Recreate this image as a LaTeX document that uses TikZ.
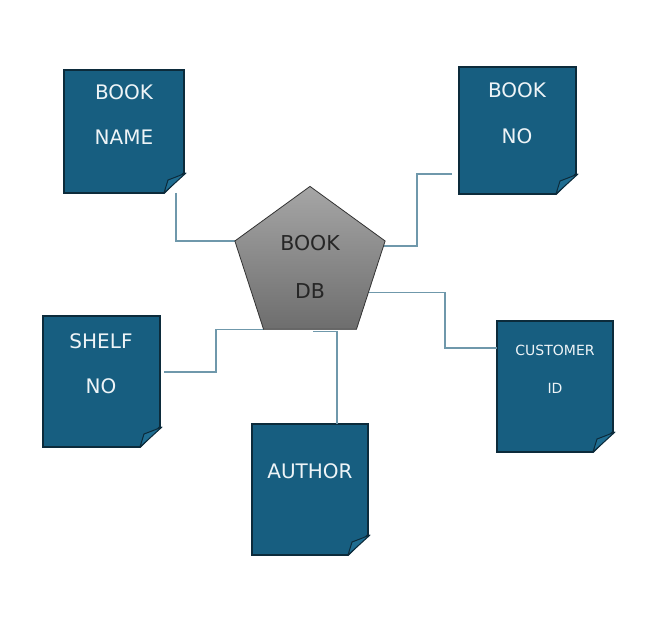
\documentclass[tikz,border=0pt]{standalone}
\usepackage{fontspec}
\setmainfont{DejaVu Sans}
\usetikzlibrary{shapes.geometric,backgrounds,calc}
\definecolor{boxfill}{HTML}{175E80}
\definecolor{boxline}{HTML}{0C2B3B}
\definecolor{flapfill}{HTML}{1F6D91}
\definecolor{conn}{HTML}{6F98AB}
\definecolor{boxtext}{HTML}{EEF4F7}
\tikzset{
  docbox/.style={rectangle, inner sep=0pt, outer sep=0pt, draw=none},
  docframe/.style={fill=boxfill, draw=boxline, line width=1.8pt, line join=miter},
  flap/.style={fill=flapfill, draw=boxline, line width=1pt, line join=round},
  boxlbl/.style={inner sep=0pt, text=boxtext, font=\fontsize{20}{24}\selectfont},
  smalllbl/.style={inner sep=0pt, text=boxtext, font=\fontsize{14}{17}\selectfont},
  dblbl/.style={inner sep=0pt, text=black!85, font=\fontsize{20.5}{24}\selectfont},
  connector/.style={draw=conn, line width=1.1pt},
  dbshape/.style={regular polygon, regular polygon sides=5, minimum size=158pt,
    inner sep=0pt, outer sep=0pt, draw=black!80, line width=0.8pt,
    top color=black!35, bottom color=black!57}
}
\newcommand\docframe[1]{%
  \path[docframe] (#1.north west) -- (#1.north east) -- ([yshift=20pt]#1.south east)
    -- ([xshift=-20pt]#1.south east) -- (#1.south west) -- cycle;
  \path[flap] ([xshift=-20pt]#1.south east) -- ([xshift=2pt,yshift=20pt]#1.south east)
    .. controls ([xshift=-8pt,yshift=16pt]#1.south east) .. ([xshift=-16pt,yshift=13pt]#1.south east)
    -- cycle;
}
\begin{document}
\begin{tikzpicture}[x=1pt,y=-1pt]
\begin{scope}[on background layer]
\fill[white] (0,0) rectangle (664,620);
\end{scope}
\useasboundingbox (0,0) rectangle (664,620);
% boxes
\node[docbox, minimum width=120pt, minimum height=123pt] (bn)  at (124,131.5) {};
\node[docbox, minimum width=117pt, minimum height=127pt] (bno) at (517.5,130.5) {};
\node[docbox, minimum width=117pt, minimum height=131pt] (sh)  at (101.5,381.5) {};
\node[docbox, minimum width=116pt, minimum height=131pt] (au)  at (310,489.5) {};
\node[docbox, minimum width=116pt, minimum height=131pt] (cu)  at (555,386.5) {};
\begin{scope}[on background layer]
  \docframe{bn}
  \docframe{bno}
  \docframe{sh}
  \docframe{au}
  \docframe{cu}
\end{scope}
% pentagon
\node[dbshape] (db) at (310,265.4) {};
% labels
\node[boxlbl] (bn1) at (124,92.5) {BOOK};
\node[boxlbl] (bn2) at (124,137) {NAME};
\node[boxlbl] (bno1) at (517,90) {BOOK};
\node[boxlbl] (bno2) at (517,136) {NO};
\node[boxlbl] (sh1) at (101,341) {SHELF};
\node[boxlbl] (sh2) at (101,386) {NO};
\node[boxlbl] (au1) at (310,471) {AUTHOR};
\node[smalllbl] (cu1) at (555,350) {CUSTOMER};
\node[smalllbl] (cu2) at (555,388) {ID};
\node[dblbl] (db1) at (310,243.5) {BOOK};
\node[dblbl] (db2) at (310,291) {DB};
% connectors
\begin{scope}[on background layer]
\draw[connector] ([xshift=-8pt]bn.south east) |- (db.corner 2);
\draw[connector] ([xshift=-3pt,yshift=-5pt]db.corner 5) -| ([xshift=-42pt,yshift=20pt]bno.south west)
  -- ([xshift=-7pt,yshift=20pt]bno.south west);
\draw[connector] ($(db.corner 5)!0.58!(db.corner 4)$) -| ([xshift=-52pt,yshift=-27pt]cu.north west)
  -- ([yshift=-27pt]cu.north west);
\draw[connector] ([xshift=4pt,yshift=9.5pt]sh.east) -- ++(52,0) |- (db.corner 3);
\draw[connector] ([xshift=3pt,yshift=-2pt]db.side 3) -| ([xshift=27pt]au.north);
\end{scope}
\end{tikzpicture}
\end{document}
